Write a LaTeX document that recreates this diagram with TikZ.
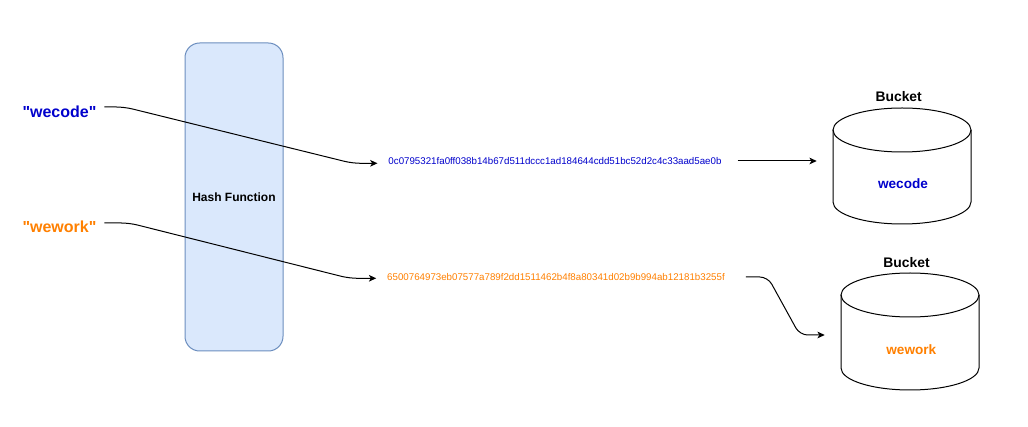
\documentclass[tikz,border=0pt]{standalone}
\usepackage{fontspec}
\setmainfont{Liberation Sans}[Ligatures=TeXOff]
\usetikzlibrary{arrows.meta,calc}
\definecolor{wblue}{HTML}{0000CC}
\definecolor{worange}{HTML}{FF8000}
\definecolor{hfill}{HTML}{DAE8FC}
\definecolor{hdraw}{HTML}{6C8EBF}
\newcommand\pxsize[1]{\fontsize{#1}{#1}\selectfont}
\tikzset{
 txt/.style={inner sep=0pt, outer sep=0pt},
 inlabel/.style={txt, font=\pxsize{12pt}\bfseries},
 hashtxt/.style={txt, font=\pxsize{7.3pt}},
 bucketlbl/.style={txt, font=\pxsize{10.4pt}\bfseries},
 bucketval/.style={txt, font=\pxsize{10.2pt}\bfseries},
 hashbox/.style={draw=hdraw, fill=hfill, line width=0.75pt, rounded corners=11pt, minimum width=73.5pt, minimum height=231pt, inner sep=0pt, font=\pxsize{9pt}\bfseries},
 bucketbox/.style={minimum width=103.5pt, minimum height=87pt, inner sep=0pt},
 conn/.style={line width=0.75pt, rounded corners=6pt, -{Stealth[length=5.5pt,width=5pt,inset=1.5pt]}},
 cyl/.style={line width=0.75pt}
}
\begin{document}
\begin{tikzpicture}[x=0.75pt,y=-0.75pt]
\useasboundingbox (0,0) rectangle (1028,427);
\fill[white] (0,0) rectangle (1028,427);

% hash function
\node[hashbox] (hf) at (234,197) {Hash Function};

% inputs
\node[inlabel, text=wblue] (in1) at (59.5,111.5) {"wecode"};
\node[inlabel, text=worange] (in2) at (59.5,226.5) {"wework"};

% hashes
\node[hashtxt, text=wblue] (h1) at (555,161) {0c0795321fa0ff038b14b67d511dccc1ad184644cdd51bc52d2c4c33aad5ae0b};
\node[hashtxt, text=worange] (h2) at (556,277) {6500764973eb07577a789f2dd1511462b4f8a80341d02b9b994ab12181b3255f};

% buckets
\node[bucketbox] (bk1) at (902,166) {};
\node[bucketbox] (bk2) at (910,331.5) {};
\draw[cyl] (902,130) ellipse [x radius=69, y radius=22];
\draw[cyl] (833,130) -- (833,202) .. controls (833,214.2) and (863.9,224) .. (902,224) .. controls (940.1,224) and (971,214.2) .. (971,202) -- (971,130);
\draw[cyl] (910,295) ellipse [x radius=69, y radius=22];
\draw[cyl] (841,295) -- (841,368) .. controls (841,380.2) and (871.9,390) .. (910,390) .. controls (948.1,390) and (979,380.2) .. (979,368) -- (979,295);

\node[bucketlbl] (bl1) at (898.7,96.7) {Bucket};
\node[bucketlbl] (bl2) at (906.5,263) {Bucket};
\node[bucketval, text=wblue] (v1) at (903,183.5) {wecode};
\node[bucketval, text=worange] (v2) at (911.3,349.5) {wework};

% connectors
\draw[conn] ($(in1.east)+(8,-4.5)$) -- ++(20,0) -- ($(h1.west)+(-36,2.3)$) -- ($(h1.west)+(-11,2.3)$);
\draw[conn] ($(in2.east)+(8,-3.5)$) -- ++(25,0) -- ($(h2.west)+(-38,1.3)$) -- ($(h2.west)+(-11,1.3)$);
\draw[conn] ($(h1.east)+(16,0)$) -- ($(bk1.west)+(-16,-5)$);
\draw[conn] ($(h2.east)+(21,0)$) -- ++(22,0) -- ($(bk2.west)+(-41,3.5)$) -- ($(bk2.west)+(-16,3.5)$);
\end{tikzpicture}
\end{document}
